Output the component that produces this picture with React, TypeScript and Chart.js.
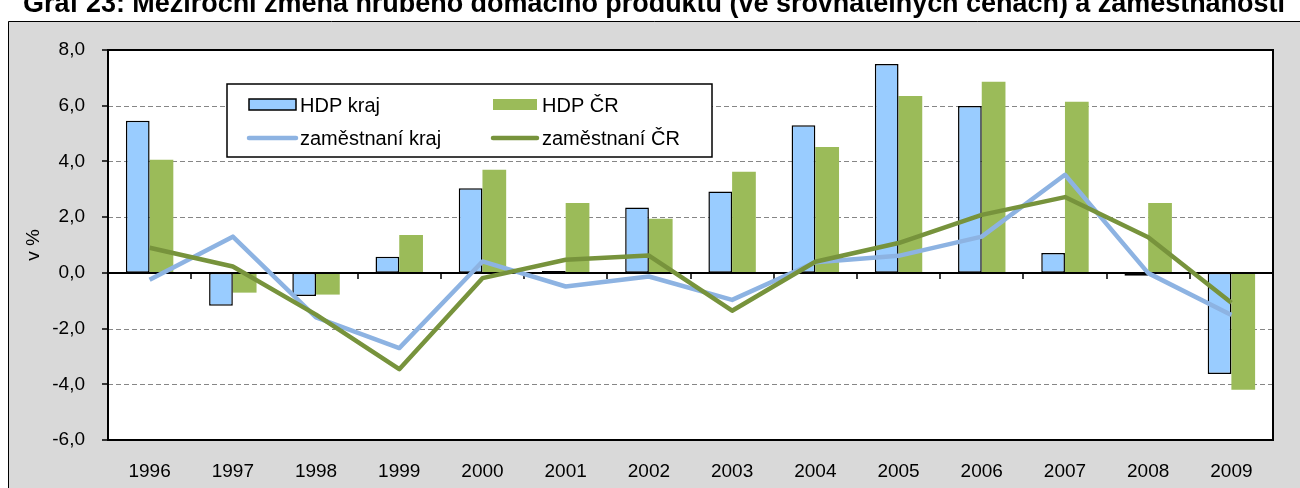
import React, { useEffect, useRef } from 'react';
import { Chart, registerables } from 'chart.js';

Chart.register(...registerables);

const chartTitle = 'Graf 23: Meziroční změna hrubého domácího produktu (ve srovnatelných cenách) a zaměstnanosti';
const axisTitle = 'v %';
const years = ['1996', '1997', '1998', '1999', '2000', '2001', '2002', '2003', '2004', '2005', '2006', '2007', '2008', '2009'];
const hdpKraj = [5.46, -1.18, -0.83, 0.58, 3.04, 0.07, 2.35, 2.92, 5.3, 7.5, 5.99, 0.71, -0.1, -3.63];
const hdpCR = [4.06, -0.71, -0.78, 1.36, 3.7, 2.51, 1.94, 3.63, 4.52, 6.35, 6.86, 6.14, 2.51, -4.2];
const zamKraj = [-0.25, 1.3, -1.6, -2.7, 0.41, -0.49, -0.13, -0.97, 0.38, 0.61, 1.3, 3.52, -0.01, -1.51];
const zamCR = [0.9, 0.23, -1.5, -3.46, -0.19, 0.47, 0.62, -1.36, 0.4, 1.07, 2.08, 2.72, 1.28, -1.07];
const seriesLabels = ['HDP kraj', 'HDP ČR', 'zaměstnaní kraj', 'zaměstnaní ČR'];
const yMin = -6;
const yMax = 8;
const yStep = 2;

const FONT = '"Liberation Sans", Arial, sans-serif';
const BLUE_BAR = '#99ccff';
const GREEN_BAR = '#9bbb59';
const BLUE_LINE = '#8db3e2';
const GREEN_LINE = '#77933c';

let zeroDrawn = false;

function drawZeroLine(chart: any) {
  const { ctx, chartArea: a } = chart;
  const y = chart.scales.y;
  const x = chart.scales.x;
  const py = Math.round(y.getPixelForValue(0));
  ctx.save();
  ctx.strokeStyle = '#000';
  ctx.lineWidth = 2;
  ctx.beginPath();
  ctx.moveTo(a.left, py);
  ctx.lineTo(a.right, py);
  ctx.stroke();
  ctx.lineWidth = 1.5;
  const n = x.ticks.length;
  const w = (a.right - a.left) / n;
  ctx.beginPath();
  for (let i = 1; i < n; i++) {
    const px = Math.round(a.left + i * w);
    ctx.moveTo(px, py);
    ctx.lineTo(px, py + 6);
  }
  ctx.stroke();
  ctx.restore();
}

const customPlugin = {
  id: 'custom',
  beforeDraw(chart: any) {
    zeroDrawn = false;
    const { ctx, chartArea: a, width, height } = chart;
    ctx.save();
    ctx.fillStyle = '#fff';
    ctx.fillRect(0, 0, width, height);
    ctx.fillStyle = '#d9d9d9';
    ctx.fillRect(8, 21, width, height);
    ctx.strokeStyle = '#000';
    ctx.lineWidth = 1;
    ctx.beginPath();
    ctx.moveTo(8.5, height + 2);
    ctx.lineTo(8.5, 21.5);
    ctx.lineTo(width + 2, 21.5);
    ctx.stroke();
    // title (cut off at top)
    let fs = 20;
    ctx.font = `bold ${fs}px ${FONT}`;
    const tw = ctx.measureText(chartTitle).width;
    fs = (fs * 1262) / tw;
    ctx.font = `bold ${fs}px ${FONT}`;
    ctx.fillStyle = '#000';
    ctx.textAlign = 'center';
    ctx.textBaseline = 'alphabetic';
    ctx.fillText(chartTitle, 654, 12);
    // plot area
    ctx.fillStyle = '#fff';
    ctx.fillRect(a.left, a.top, a.right - a.left, a.bottom - a.top);
    // dashed grid
    const ys = chart.scales.y;
    ctx.strokeStyle = '#868686';
    ctx.lineWidth = 1;
    ctx.setLineDash([5, 3]);
    ctx.beginPath();
    for (const t of ys.ticks) {
      if (t.value === yMin || t.value === yMax || t.value === 0) continue;
      const py = Math.round(ys.getPixelForValue(t.value)) + 0.5;
      ctx.moveTo(a.left, py);
      ctx.lineTo(a.right, py);
    }
    ctx.stroke();
    ctx.restore();
  },
  beforeDatasetDraw(chart: any, args: any) {
    if (!zeroDrawn && args.meta.type === 'line') {
      zeroDrawn = true;
      drawZeroLine(chart);
    }
  },
  afterDatasetsDraw(chart: any) {
    const { ctx, chartArea: a } = chart;
    if (!zeroDrawn) {
      zeroDrawn = true;
      drawZeroLine(chart);
    }
    ctx.save();
    // plot border
    ctx.strokeStyle = '#000';
    ctx.lineWidth = 2;
    ctx.strokeRect(a.left, a.top, a.right - a.left, a.bottom - a.top);
    // y tick marks
    const ys = chart.scales.y;
    ctx.lineWidth = 1.5;
    ctx.beginPath();
    for (const t of ys.ticks) {
      const py = Math.round(ys.getPixelForValue(t.value));
      ctx.moveTo(a.left - 6, py);
      ctx.lineTo(a.left, py);
    }
    ctx.stroke();

    // legend
    const ds = chart.data.datasets;
    const L = 227, T = 84, R = 712, B = 157;
    ctx.fillStyle = '#fff';
    ctx.fillRect(L, T, R - L, B - T);
    ctx.strokeStyle = '#000';
    ctx.lineWidth = 1.5;
    ctx.strokeRect(L, T, R - L, B - T);
    ctx.font = `20px ${FONT}`;
    ctx.textAlign = 'left';
    ctx.textBaseline = 'middle';
    const rows = [105, 138];
    const cols = [[249, 296, 300], [493, 537, 542]];
    const items = [0, 1, 2, 3];
    items.forEach((i) => {
      const d = ds[i];
      const r = rows[Math.floor(i / 2)];
      const c = cols[i % 2];
      if (d.type === 'bar') {
        ctx.fillStyle = d.backgroundColor;
        ctx.fillRect(c[0], r - 6, c[1] - c[0], 11);
        if (d.borderWidth) {
          ctx.strokeStyle = '#000';
          ctx.lineWidth = 1.5;
          ctx.strokeRect(c[0], r - 6, c[1] - c[0], 11);
        }
      } else {
        ctx.strokeStyle = d.borderColor;
        ctx.lineWidth = 4.5;
        ctx.lineCap = 'round';
        ctx.beginPath();
        ctx.moveTo(c[0], r);
        ctx.lineTo(c[1], r);
        ctx.stroke();
      }
      ctx.fillStyle = '#000';
      ctx.fillText(d.label, c[2], r + 1);
    });
    ctx.restore();
  },
};

export default function App() {
  const ref = useRef<HTMLCanvasElement | null>(null);
  useEffect(() => {
    if (!ref.current) return;
    Chart.defaults.font.family = FONT;
    const chart = new Chart(ref.current, {
      type: 'bar',
      data: {
        labels: years,
        datasets: [
          {
            type: 'bar',
            label: seriesLabels[0],
            data: hdpKraj,
            backgroundColor: BLUE_BAR,
            borderColor: '#000',
            borderWidth: 1.5,
            borderSkipped: false,
            order: 2,
          } as any,
          {
            type: 'bar',
            label: seriesLabels[1],
            data: hdpCR,
            backgroundColor: GREEN_BAR,
            borderWidth: 0,
            order: 2,
          } as any,
          {
            type: 'line',
            label: seriesLabels[2],
            data: zamKraj,
            borderColor: BLUE_LINE,
            backgroundColor: BLUE_LINE,
            borderWidth: 4.5,
            pointRadius: 0,
            tension: 0,
            borderJoinStyle: 'round',
            order: 1,
          } as any,
          {
            type: 'line',
            label: seriesLabels[3],
            data: zamCR,
            borderColor: GREEN_LINE,
            backgroundColor: GREEN_LINE,
            borderWidth: 4.5,
            pointRadius: 0,
            tension: 0,
            borderJoinStyle: 'round',
            order: 0,
          } as any,
        ],
      },
      plugins: [customPlugin],
      options: {
        animation: false,
        responsive: false,
        devicePixelRatio: 1,
        layout: { padding: { left: 0, top: 50, right: 27, bottom: 0 } },
        datasets: {
          bar: { categoryPercentage: 0.57, barPercentage: 1 },
        },
        plugins: {
          legend: { display: false },
          title: { display: false },
          tooltip: { enabled: false },
        },
        scales: {
          x: {
            grid: { display: false, drawTicks: false },
            border: { display: false },
            ticks: { color: '#000', font: { size: 19 }, padding: 20, maxRotation: 0, autoSkip: false },
            afterFit: (s: any) => {
              s.height = 48;
            },
          },
          y: {
            min: yMin,
            max: yMax,
            grid: { display: false, drawTicks: false },
            border: { display: false },
            ticks: {
              stepSize: yStep,
              color: '#000',
              font: { size: 19 },
              padding: 23,
              callback: (v: any) => Number(v).toFixed(1).replace('.', ','),
            },
            title: {
              display: true,
              text: axisTitle,
              color: '#000',
              font: { size: 19 },
              padding: { top: 22, bottom: 0 },
            },
            afterFit: (s: any) => {
              s.width = 108;
            },
          },
        },
      },
    });
    return () => chart.destroy();
  }, []);
  return (
    <canvas
      ref={ref}
      width={1300}
      height={488}
      style={{ position: 'absolute', left: 0, top: 0, width: 1300, height: 488, display: 'block' }}
    />
  );
}
